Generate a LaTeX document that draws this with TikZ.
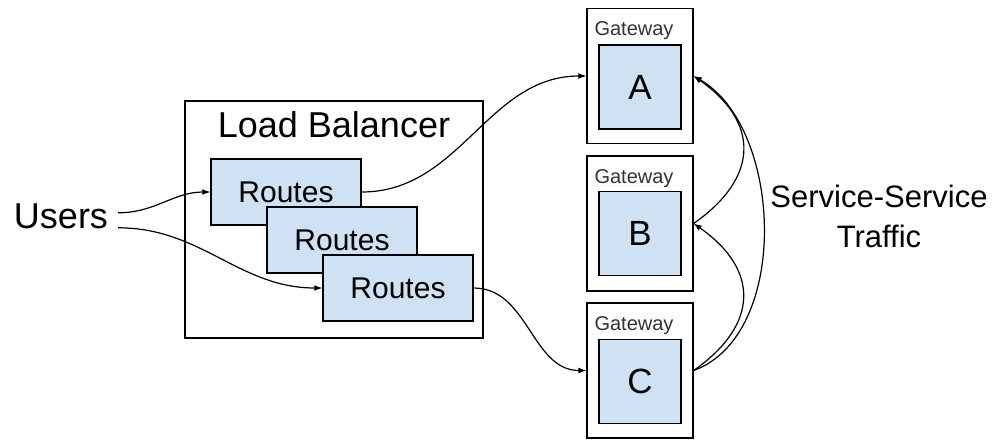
\documentclass[tikz,border=0pt]{standalone}
\usepackage{fontspec}
\setmainfont{Liberation Sans}
\usetikzlibrary{arrows.meta}
\definecolor{paleblue}{HTML}{CFE2F3}

\begin{document}
\begin{tikzpicture}[x=1pt, y=-1pt,
		box/.style={draw, line width=1.3pt, inner sep=0pt},
		route/.style={box, fill=paleblue, minimum width=150pt, minimum height=66pt, font=\fontsize{30}{36}\selectfont},
		gateway/.style={box, fill=white, minimum width=106pt, minimum height=135pt},
		service/.style={box, fill=paleblue, minimum width=82pt, minimum height=84pt, font=\fontsize{35}{42}\selectfont},
		gwlabel/.style={anchor=base west, inner sep=0pt, text=black!80, font=\fontsize{20}{24}\selectfont},
		flow/.style={line width=1.2pt, -{Latex[length=8pt,width=6pt]}}]
		\useasboundingbox (0,0) rectangle (995,440);

		% Users on the left
		\node (users) [anchor=base, inner xsep=10pt, inner ysep=0pt, font=\fontsize{36}{43}\selectfont] at (61,228) {Users};

		% Load balancer with its stacked routes
		\node (lb) [box, minimum width=298pt, minimum height=237pt] at (334,219.5) {};
		\node (lbtext) [anchor=base, inner sep=0pt, font=\fontsize{36}{43}\selectfont] at (334,137) {Load Balancer};
		\node (r1) [route] at (286,192) {Routes};
		\node (r2) [route] at (342,240) {Routes};
		\node (r3) [route] at (398,288) {Routes};

		% Gateways, each holding one service
		\node (gwA) [gateway] at (640,76) {};
		\node (gwB) [gateway] at (640,223.5) {};
		\node (gwC) [gateway] at (640,370.5) {};
		\node (gwAtext) [gwlabel] at ([xshift=8pt,yshift=-28pt]gwA.north west) {Gateway};
		\node (gwBtext) [gwlabel] at ([xshift=8pt,yshift=-28pt]gwB.north west) {Gateway};
		\node (gwCtext) [gwlabel] at ([xshift=8pt,yshift=-28pt]gwC.north west) {Gateway};
		\node (svcA) [service] at (640,87) {A};
		\node (svcB) [service] at (640,233.5) {B};
		\node (svcC) [service] at (640,381.5) {C};

		\node (traffic) [align=center, font=\fontsize{31}{40}\selectfont] at (879,216) {Service-Service\\Traffic};

		% Incoming traffic
		\draw[flow] ([yshift=3pt]users.east) to[out=0, in=180] (r1.west);
		\draw[flow] ([yshift=-12pt]users.east) to[out=0, in=180] (r3.west);
		\draw[flow] (r1.east) to[out=0, in=180] (gwA.west);
		\draw[flow] (r3.east) to[out=0, in=180] (gwC.west);

		% Service to service traffic
		\draw[flow] (gwC.east) to[out=20, in=-30, looseness=0.9] (gwA.east);
		\draw[flow] (gwC.east) to[out=35, in=-35, looseness=1.4] (gwB.east);
		\draw[flow] (gwB.east) to[out=35, in=-35, looseness=1.4] (gwA.east);
\end{tikzpicture}
\end{document}
